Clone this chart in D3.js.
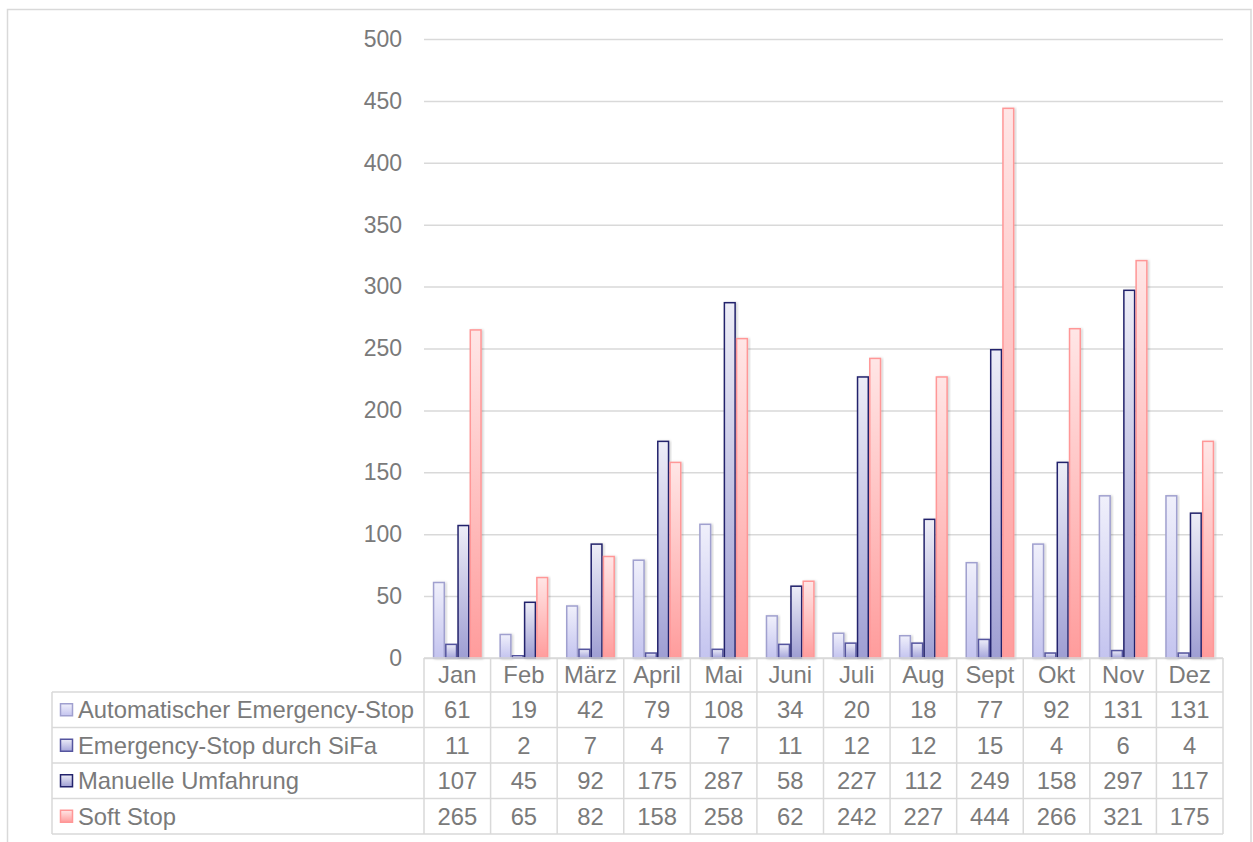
<!DOCTYPE html>
<html>
<head>
<meta charset="utf-8">
<script src="https://cdn.jsdelivr.net/npm/d3@7"></script>
<style>
  html, body { margin: 0; padding: 0; background: #fff; }
  svg { display: block; font-family: "Liberation Sans", Arial, sans-serif; }
</style>
</head>
<body>
<svg id="chart" width="1253" height="842"></svg>
<script>
// Monthly stop events by type
const months = ["Jan", "Feb", "März", "April", "Mai", "Juni", "Juli", "Aug", "Sept", "Okt", "Nov", "Dez"];
const seriesNames = ["Automatischer Emergency-Stop", "Emergency-Stop durch SiFa", "Manuelle Umfahrung", "Soft Stop"];
const autoStop   = [61, 19, 42, 79, 108, 34, 20, 18, 77, 92, 131, 131];
const sifaStop   = [11, 2, 7, 4, 7, 11, 12, 12, 15, 4, 6, 4];
const manual     = [107, 45, 92, 175, 287, 58, 227, 112, 249, 158, 297, 117];
const softStop   = [265, 65, 82, 158, 258, 62, 242, 227, 444, 266, 321, 175];
const yTicks     = [0, 50, 100, 150, 200, 250, 300, 350, 400, 450, 500];

const seriesValues = [autoStop, sifaStop, manual, softStop];

// Fill gradients (top -> bottom) and outlines per series
const styles = [
  { top: "#f0f0fb", bottom: "#c4c4ef", stroke: "#a0a0cf" },
  { top: "#ececf8", bottom: "#a6a6db", stroke: "#55559f" },
  { top: "#ededf7", bottom: "#9e9ed3", stroke: "#23236c" },
  { top: "#ffe6e6", bottom: "#ff9c9c", stroke: "#ff9797" }
];

const svg = d3.select("#chart");
const textColor = "#7a7a7a";
const gridColor = "#d9d9d9";
const fontSize = 23;
const tableFontSize = 23.8;

const plot = { left: 424, right: 1223, top: 39, bottom: 658 };
const table = { left: 52, headerBottom: 692, rowH: 35.5 };

const defs = svg.append("defs");
styles.forEach((s, i) => {
  const g = defs.append("linearGradient")
    .attr("id", "grad" + i).attr("x1", 0).attr("y1", 0).attr("x2", 0).attr("y2", 1);
  g.append("stop").attr("offset", "0%").attr("stop-color", s.top);
  g.append("stop").attr("offset", "100%").attr("stop-color", s.bottom);
});
const shadow = defs.append("filter").attr("id", "shadow")
  .attr("x", "-30%").attr("y", "-10%").attr("width", "160%").attr("height", "120%");
shadow.append("feDropShadow").attr("dx", 1.5).attr("dy", 0.5).attr("stdDeviation", 1.2)
  .attr("flood-color", "#000").attr("flood-opacity", 0.18);

// Outer chart frame
svg.append("rect")
  .attr("x", 7.5).attr("y", 9.5).attr("width", 1243.5).attr("height", 850)
  .attr("fill", "none").attr("stroke", gridColor).attr("stroke-width", 1.5);

const y = d3.scaleLinear().domain([0, 500]).range([plot.bottom, plot.top]);
const x0 = d3.scaleBand().domain(months).range([plot.left, plot.right]).paddingInner(0).paddingOuter(0);
const x1 = d3.scaleBand().domain(d3.range(seriesValues.length)).range([0, x0.bandwidth()])
  .paddingInner(0).paddingOuter(0.72);

// Gridlines and value axis labels
const yAxis = d3.axisLeft(y).tickValues(yTicks).tickSize(-(plot.right - plot.left)).tickPadding(22);
const ga = svg.append("g").attr("transform", `translate(${plot.left},0)`).call(yAxis);
ga.select(".domain").remove();
ga.selectAll(".tick line").attr("stroke", gridColor).attr("stroke-width", 1.5);
ga.selectAll(".tick text").attr("fill", textColor).attr("font-size", fontSize)
  .attr("font-family", "'Liberation Sans', Arial, sans-serif");

// Bars
const groups = svg.append("g").selectAll("g").data(months).join("g")
  .attr("transform", d => `translate(${x0(d)},0)`);
groups.selectAll("rect")
  .data((m, mi) => seriesValues.map((vals, si) => ({ si, v: vals[mi] })))
  .join("rect")
  .attr("x", d => x1(d.si) + 0.75)
  .attr("width", x1.bandwidth() - 1.5)
  .attr("y", d => y(d.v))
  .attr("height", d => plot.bottom - y(d.v))
  .attr("fill", d => `url(#grad${d.si})`)
  .attr("stroke", d => styles[d.si].stroke)
  .attr("stroke-width", 1.5)
  .attr("filter", "url(#shadow)");

// Data table
const tg = svg.append("g");
const lineAttrs = sel => sel.attr("stroke", gridColor).attr("stroke-width", 1.5);
const rowTop = i => table.headerBottom + i * table.rowH;
const tableBottom = rowTop(seriesValues.length);

// Header row (month names)
tg.selectAll("text.month").data(months).join("text")
  .attr("class", "month")
  .attr("x", d => x0(d) + x0.bandwidth() / 2)
  .attr("y", (plot.bottom + table.headerBottom) / 2)
  .attr("dy", "0.35em")
  .attr("text-anchor", "middle")
  .attr("fill", textColor).attr("font-size", tableFontSize)
  .text(d => d);

// Horizontal rules
lineAttrs(tg.append("line").attr("x1", plot.left).attr("x2", plot.right)
  .attr("y1", plot.bottom).attr("y2", plot.bottom));
d3.range(seriesValues.length + 1).forEach(i => {
  lineAttrs(tg.append("line").attr("x1", table.left).attr("x2", plot.right)
    .attr("y1", rowTop(i)).attr("y2", rowTop(i)));
});
// Vertical rules
lineAttrs(tg.append("line").attr("x1", table.left).attr("x2", table.left)
  .attr("y1", table.headerBottom).attr("y2", tableBottom));
months.forEach(m => {
  lineAttrs(tg.append("line").attr("x1", x0(m)).attr("x2", x0(m))
    .attr("y1", plot.bottom).attr("y2", tableBottom));
});
lineAttrs(tg.append("line").attr("x1", plot.right).attr("x2", plot.right)
  .attr("y1", plot.bottom).attr("y2", tableBottom));

// Series rows: legend key, name, values
seriesValues.forEach((vals, si) => {
  const cy = rowTop(si) + table.rowH / 2;
  tg.append("rect")
    .attr("x", 60.5).attr("y", cy - 6).attr("width", 12).attr("height", 12)
    .attr("fill", `url(#grad${si})`).attr("stroke", styles[si].stroke).attr("stroke-width", 1.5);
  tg.append("text")
    .attr("x", 78).attr("y", cy).attr("dy", "0.35em")
    .attr("fill", textColor).attr("font-size", tableFontSize)
    .text(seriesNames[si]);
  tg.selectAll(null).data(vals).join("text")
    .attr("x", (d, mi) => x0(months[mi]) + x0.bandwidth() / 2)
    .attr("y", cy).attr("dy", "0.35em")
    .attr("text-anchor", "middle")
    .attr("fill", textColor).attr("font-size", tableFontSize)
    .text(d => d);
});
</script>
</body>
</html>
